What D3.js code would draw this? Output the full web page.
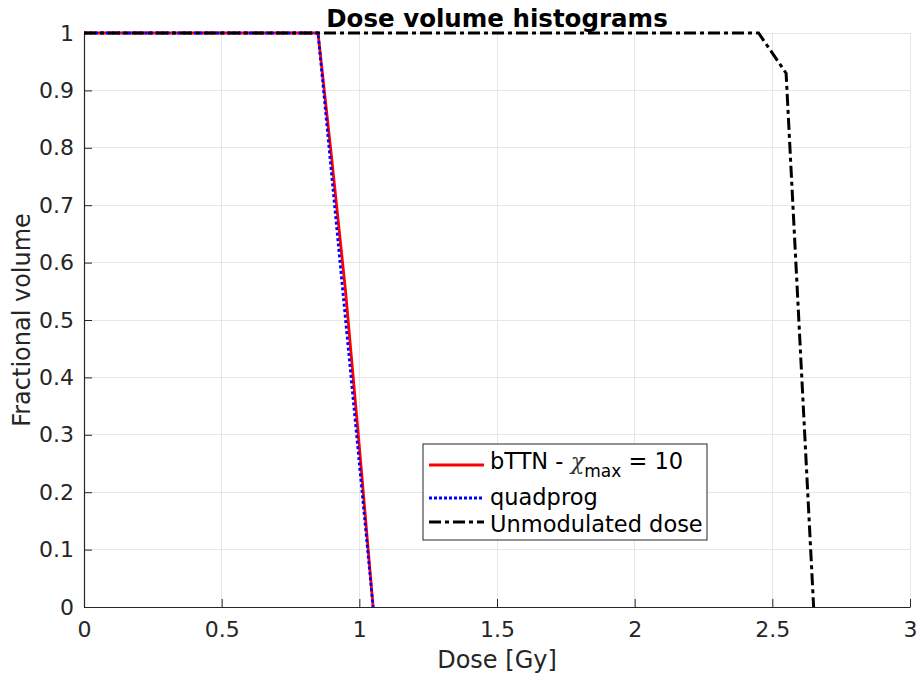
<!DOCTYPE html>
<html>
<head>
<meta charset="utf-8">
<script src="https://cdn.jsdelivr.net/npm/d3@7"></script>
<style>
  body { margin: 0; background: #fff; }
  svg { display: block; font-family: "DejaVu Sans", sans-serif; }
</style>
</head>
<body>
<svg id="chart"></svg>
<script>
// DVH curves
const bttnDose = [0, 0.85, 0.9, 0.95, 1.0, 1.05];
const bttnVol = [1, 1, 0.78, 0.55, 0.28, 0];
const quadDose = [0, 0.85, 0.9, 0.95, 1.0, 1.05];
const quadVol = [1, 1, 0.75, 0.5, 0.25, 0];
const unmodDose = [0, 2.45, 2.55, 2.65];
const unmodVol = [1, 1, 0.93, 0];

const xTicks = [0, 0.5, 1, 1.5, 2, 2.5, 3];
const yTicks = [0, 0.1, 0.2, 0.3, 0.4, 0.5, 0.6, 0.7, 0.8, 0.9, 1];

const W = 919, H = 675;
const margin = { top: 33, right: 9, bottom: 68, left: 84 };
const width = W - margin.left - margin.right;
const height = H - margin.top - margin.bottom;
const axisColor = "#262626";

const svg = d3.select("#chart").attr("width", W).attr("height", H);

const x = d3.scaleLinear().domain([0, 3]).range([0, width]);
const y = d3.scaleLinear().domain([0, 1]).range([height, 0]);

const g = svg.append("g").attr("transform", `translate(${margin.left},${margin.top})`);

// grid
g.append("g")
  .selectAll("line")
  .data(xTicks)
  .join("line")
  .attr("x1", d => x(d)).attr("x2", d => x(d))
  .attr("y1", 0).attr("y2", height)
  .attr("stroke", "#e6e6e6")
  .attr("stroke-width", 1)
  .attr("shape-rendering", "crispEdges");

g.append("g")
  .selectAll("line")
  .data(yTicks)
  .join("line")
  .attr("x1", 0).attr("x2", width)
  .attr("y1", d => y(d)).attr("y2", d => y(d))
  .attr("stroke", "#e6e6e6")
  .attr("stroke-width", 1)
  .attr("shape-rendering", "crispEdges");

// axes
const xAxis = d3.axisBottom(x).tickValues(xTicks).tickSizeInner(-8).tickSizeOuter(0).tickPadding(14)
  .tickFormat(d3.format("~g"));
const yAxis = d3.axisLeft(y).tickValues(yTicks).tickSizeInner(-8).tickSizeOuter(0).tickPadding(10)
  .tickFormat(d3.format("~g"));

const gx = g.append("g").attr("transform", `translate(0,${height})`).call(xAxis);
const gy = g.append("g").call(yAxis);

[gx, gy].forEach(a => {
  a.select(".domain").attr("stroke", axisColor).attr("stroke-width", 1.2);
  a.selectAll(".tick line").attr("stroke", axisColor).attr("stroke-width", 1);
  a.selectAll(".tick text")
    .attr("fill", axisColor)
    .style("font-family", "DejaVu Sans, sans-serif")
    .style("font-size", "22px");
});

// curves
const line = d3.line().x(d => x(d[0])).y(d => y(d[1]));

const series = [
  { dose: bttnDose, vol: bttnVol, color: "#ff0000", width: 2.8, dash: null },
  { dose: quadDose, vol: quadVol, color: "#0000ff", width: 2.8, dash: "3,2.5" },
  { dose: unmodDose, vol: unmodVol, color: "#000000", width: 3, dash: "12,4,4,4" }
];

series.forEach(s => {
  g.append("path")
    .datum(s.dose.map((d, i) => [d, s.vol[i]]))
    .attr("d", line)
    .attr("fill", "none")
    .attr("stroke", s.color)
    .attr("stroke-width", s.width)
    .attr("stroke-dasharray", s.dash);
});

// labels
svg.append("text")
  .attr("x", margin.left + width / 2)
  .attr("y", 668)
  .attr("text-anchor", "middle")
  .attr("fill", axisColor)
  .style("font-size", "24px")
  .text("Dose [Gy]");

svg.append("text")
  .attr("transform", `translate(30,${margin.top + height / 2}) rotate(-90)`)
  .attr("text-anchor", "middle")
  .attr("fill", axisColor)
  .style("font-size", "24px")
  .text("Fractional volume");

svg.append("text")
  .attr("x", margin.left + width / 2)
  .attr("y", 27)
  .attr("text-anchor", "middle")
  .attr("fill", "#000")
  .style("font-size", "24.5px")
  .style("font-weight", "bold")
  .text("Dose volume histograms");

// legend
const legend = svg.append("g").attr("transform", "translate(423,444)");
legend.append("rect")
  .attr("width", 284).attr("height", 96)
  .attr("fill", "#fff")
  .attr("stroke", axisColor)
  .attr("stroke-width", 1);

const rows = [
  { y: 21, color: "#ff0000", width: 2.8, dash: null },
  { y: 54, color: "#0000ff", width: 2.8, dash: "3,2" },
  { y: 78, color: "#000000", width: 3, dash: "12,4,4,4" }
];
rows.forEach(r => {
  legend.append("line")
    .attr("x1", 6).attr("x2", 61)
    .attr("y1", r.y).attr("y2", r.y)
    .attr("stroke", r.color)
    .attr("stroke-width", r.width)
    .attr("stroke-dasharray", r.dash);
});

const t1 = legend.append("text").attr("x", 67).attr("y", 25).style("font-size", "22.5px").attr("fill", "#000");
t1.append("tspan").text("bTTN - ");
t1.append("tspan").style("font-family", "DejaVu Serif, serif").style("font-style", "italic").attr("fill", "#333").text("χ");
t1.append("tspan").attr("dy", 8).style("font-size", "17px").text("max");
t1.append("tspan").attr("dy", -8).text(" = 10");

legend.append("text").attr("x", 67).attr("y", 61).style("font-size", "22.5px").attr("fill", "#000").text("quadprog");
legend.append("text").attr("x", 67).attr("y", 88).style("font-size", "22.5px").attr("fill", "#000").text("Unmodulated dose");
</script>
</body>
</html>
